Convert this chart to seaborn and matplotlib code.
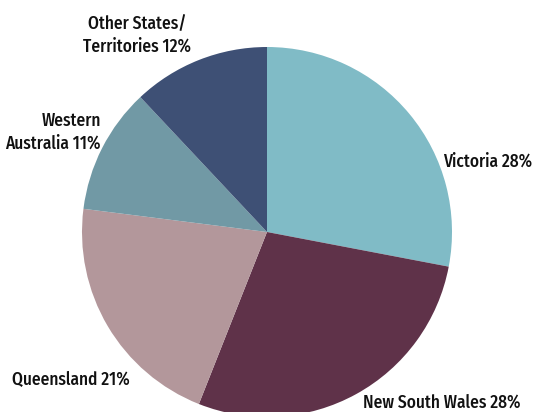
import matplotlib
matplotlib.use("Agg")
import matplotlib.pyplot as plt
import seaborn as sns

categories = ["Victoria", "New South Wales", "Queensland", "Western\nAustralia", "Other States/\nTerritories"]
shares = [28, 28, 21, 11, 12]
colors = ["#80BBC6", "#5F3249", "#B3979B", "#7199A5", "#3E5075"]

sns.set_theme(style="white")
plt.rcParams['font.family'] = ['Fira Sans Condensed', 'DejaVu Sans']

fig = plt.figure(figsize=(5.34, 4.12), dpi=100)
ax = fig.add_axes([0, 0, 1, 1])
ax.pie(shares, colors=colors, startangle=90, counterclock=False,
       center=(267, 180), radius=185, frame=True,
       wedgeprops=dict(linewidth=0))
ax.set_xlim(0, 534)
ax.set_ylim(0, 412)
ax.set_aspect('equal')
ax.axis('off')

labels = [f"{c} {v}%" for c, v in zip(categories, shares)]
pos = [(443, 412 - 161, 'left'), (363, 412 - 402, 'left'), (12, 412 - 380, 'left'),
       (101, 412 - 132, 'right'), (137, 412 - 35, 'center')]
for lab, (x, y, ha) in zip(labels, pos):
    ax.text(x, y, lab, ha=ha, va='center', fontsize=12.5, color='#111111',
            fontweight=500, linespacing=1.3, multialignment=ha)

fig.savefig("out.png", dpi=100)
